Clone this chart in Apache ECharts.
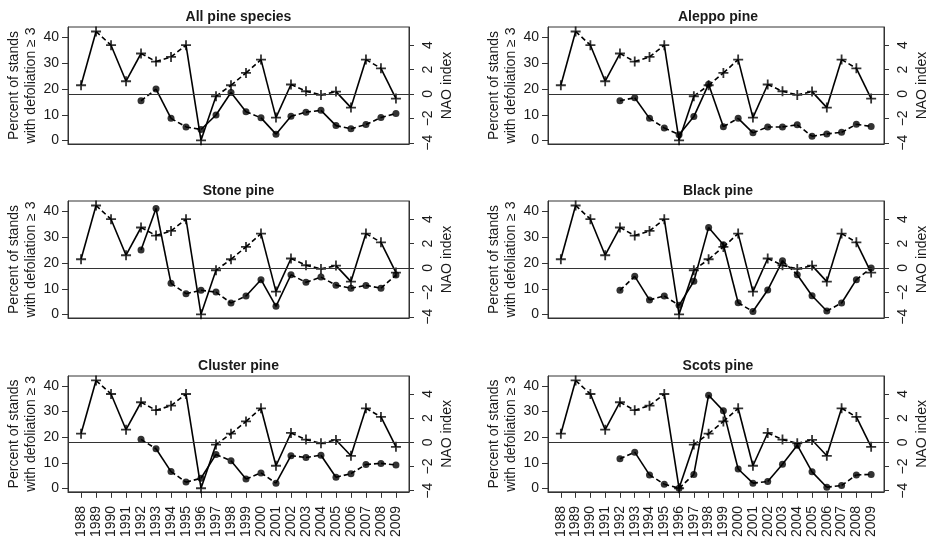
<!DOCTYPE html>
<html>
<head>
<meta charset="utf-8">
<script src="https://cdn.jsdelivr.net/npm/echarts@6/dist/echarts.min.js"></script>
<style>html,body{margin:0;padding:0;background:#fff}#c{width:930px;height:540px}</style>
</head>
<body>
<div id="c"></div>
<script>
// ---- data ----
var years = [1988,1989,1990,1991,1992,1993,1994,1995,1996,1997,1998,1999,2000,2001,2002,2003,2004,2005,2006,2007,2008,2009];
var nao = [0.71,5.11,3.99,1.04,3.31,2.65,3.03,3.99,-3.80,-0.19,0.71,1.72,2.81,-1.94,0.77,0.22,-0.08,0.19,-1.12,2.81,2.10,-0.38];
var defolYears = [1992,1993,1994,1995,1996,1997,1998,1999,2000,2001,2002,2003,2004,2005,2006,2007,2008,2009];
var allPine = [15.4,19.9,8.6,5.3,4.3,9.9,18.6,11.2,8.8,2.5,9.4,11.0,11.7,5.8,4.6,6.2,8.9,10.5];
var aleppoPine = [15.4,16.6,8.6,4.9,2.3,9.3,21.8,5.4,8.6,3.0,5.3,5.3,6.1,1.7,2.6,3.2,6.3,5.5];
var stonePine = [25.0,41.0,12.1,8.1,9.4,8.7,4.5,7.2,13.5,3.2,15.4,12.5,14.5,11.4,10.2,11.3,10.2,15.3];
var blackPine = [9.4,14.8,5.7,7.2,3.6,12.9,33.7,27.0,4.6,1.2,9.5,20.8,15.4,7.3,1.4,4.5,13.5,18.0];
var clusterPine = [19.2,15.5,6.6,2.5,4.0,13.3,10.8,3.7,6.1,2.1,12.8,12.1,13.0,4.4,5.8,9.4,9.8,9.2];
var scotsPine = [11.6,14.2,5.3,1.7,0.1,5.5,36.4,30.3,7.6,2.1,2.7,9.5,16.9,6.5,0.5,1.2,5.3,5.5];
var panelTitles = ['All pine species','Aleppo pine','Stone pine','Black pine','Cluster pine','Scots pine'];
var panelData = [allPine, aleppoPine, stonePine, blackPine, clusterPine, scotsPine];
var leftTicks = [0,10,20,30,40];
var rightTicks = [-4,-2,0,2,4];

// ---- layout ----
var FONT = "'Liberation Sans', Arial, Helvetica, sans-serif";
var TXT = '#1a1a1a';
var AX = '#333';
var FS = 14;
var colLeft = [68, 548], colWidth = [341, 340];
var rowTop = [27, 201, 376], gridH = 117;
var titleTop = [10, 184, 359];

function segments(xs, ys, thr) {
  var out = [];
  for (var i = 0; i < xs.length - 1; i++) {
    var d = Math.abs(ys[i + 1] - ys[i]);
    out.push({
      coords: [[xs[i], ys[i]], [xs[i + 1], ys[i + 1]]],
      lineStyle: { type: d >= thr ? 'solid' : [5, 3] }
    });
  }
  return out;
}
function minusFmt(v) { return v < 0 ? '\u2212' + (-v) : String(v); }

var grids = [], xAxes = [], yAxes = [], series = [], titles = [];
for (var p = 0; p < 6; p++) {
  var r = Math.floor(p / 2), c = p % 2;
  var bottom = (r === 2);
  grids.push({ left: colLeft[c], top: rowTop[r], width: colWidth[c], height: gridH,
    show: true, borderColor: AX, borderWidth: 1, containLabel: false });
  titles.push({ text: panelTitles[p], left: colLeft[c] + colWidth[c] / 2, top: titleTop[r],
    textAlign: 'center', padding: 0,
    textStyle: { fontFamily: FONT, fontSize: FS, fontWeight: 'bold', color: TXT } });
  xAxes.push({ gridIndex: p, type: 'value', min: 1987.13, max: 2009.87,
    splitLine: { show: false },
    axisLine: { show: true, onZero: false, lineStyle: { color: AX } },
    axisTick: { show: bottom, customValues: years, length: 6, lineStyle: { color: AX } },
    axisLabel: { show: bottom, customValues: years, rotate: 90, margin: 14,
      fontFamily: FONT, fontSize: FS, color: TXT, formatter: function (v) { return String(v); } } });
  yAxes.push({ gridIndex: p, type: 'value', position: 'left', min: -1.3, max: 43.9,
    splitLine: { show: false },
    axisLine: { show: true, onZero: false, lineStyle: { color: AX } },
    axisTick: { customValues: leftTicks, length: 6, lineStyle: { color: AX } },
    axisLabel: { customValues: leftTicks, margin: 9, fontFamily: FONT, fontSize: FS, color: TXT },
    name: 'Percent of stands\nwith defoliation \u2265 3', nameLocation: 'middle', nameRotate: 90, nameGap: 28,
    nameTextStyle: { fontFamily: FONT, fontSize: FS, lineHeight: 17, color: TXT } });
  yAxes.push({ gridIndex: p, type: 'value', position: 'right', min: -4.1, max: 5.48,
    splitLine: { show: false },
    axisLine: { show: true, onZero: false, lineStyle: { color: AX } },
    axisTick: { customValues: rightTicks, length: 5, lineStyle: { color: AX } },
    axisLabel: { customValues: rightTicks, rotate: 90, margin: 12, fontFamily: FONT, fontSize: FS, color: TXT,
      formatter: minusFmt },
    name: 'NAO index', nameLocation: 'middle', nameRotate: 90, nameGap: 31,
    nameTextStyle: { fontFamily: FONT, fontSize: FS, color: TXT } });

  var ly = 2 * p, ry = 2 * p + 1;
  // NAO segments
  series.push({ type: 'lines', coordinateSystem: 'cartesian2d', xAxisIndex: p, yAxisIndex: ry,
    polyline: false, symbol: 'none', silent: true, z: 2,
    lineStyle: { color: '#000', width: 1.6, opacity: 1, curveness: 0 },
    data: segments(years, nao, 1.15) });
  // defoliation segments
  series.push({ type: 'lines', coordinateSystem: 'cartesian2d', xAxisIndex: p, yAxisIndex: ly,
    polyline: false, symbol: 'none', silent: true, z: 2,
    lineStyle: { color: '#000', width: 1.6, opacity: 1, curveness: 0 },
    data: segments(defolYears, panelData[p], 5.5) });
  // NAO crosses + zero line
  series.push({ type: 'scatter', xAxisIndex: p, yAxisIndex: ry, z: 3, silent: true,
    symbol: 'path://M4.1,0H5.9V4.1H10V5.9H5.9V10H4.1V5.9H0V4.1H4.1Z', symbolSize: 10,
    itemStyle: { color: '#000' },
    data: years.map(function (y, i) { return [y, nao[i]]; }),
    markLine: { silent: true, symbol: 'none', label: { show: false },
      lineStyle: { color: '#333', type: 'solid', width: 1 },
      data: [{ yAxis: 0 }] } });
  // defoliation circles
  series.push({ type: 'scatter', xAxisIndex: p, yAxisIndex: ly, z: 3, silent: true,
    symbol: 'circle', symbolSize: 7, itemStyle: { color: '#000' },
    data: defolYears.map(function (y, i) { return [y, panelData[p][i]]; }) });
}

var chart = echarts.init(document.getElementById('c'), null, { renderer: 'canvas' });
chart.setOption({
  animation: false,
  backgroundColor: '#fff',
  title: titles,
  grid: grids,
  xAxis: xAxes,
  yAxis: yAxes,
  series: series
});
</script>
</body>
</html>
